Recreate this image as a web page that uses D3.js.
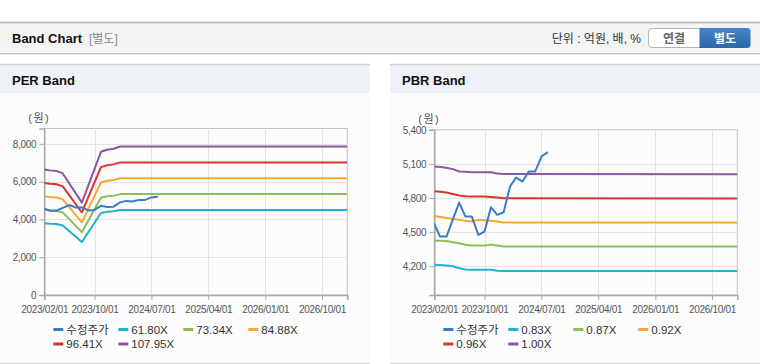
<!DOCTYPE html>
<html><head><meta charset="utf-8">
<script src="https://cdn.jsdelivr.net/npm/d3@7/dist/d3.min.js"></script>
<style>
html,body{margin:0;padding:0;background:#fff;}
svg{display:block;font-family:"Liberation Sans",Arial,"Noto Sans CJK KR",sans-serif;}
</style></head>
<body><svg id="c" width="760" height="364"></svg>
<script>
// ---------- data ----------
const xTickDates = ["2023-02-01","2023-10-01","2024-07-01","2025-04-01","2026-01-01","2026-10-01"];
const xDomain = ["2023-02-01","2027-01-31"];

const priceDates = ["2023-02-01","2023-03-01","2023-04-01","2023-05-01","2023-06-01","2023-07-01","2023-08-01","2023-09-01","2023-10-01","2023-11-01","2023-12-01","2024-01-01","2024-02-01","2024-03-01","2024-04-01","2024-05-01","2024-06-01","2024-07-01","2024-08-01"];
const priceValues = [4572,4461,4461,4610,4760,4637,4637,4476,4505,4719,4652,4675,4901,4980,4945,5033,5033,5165,5204];

const perDates = ["2023-02-01","2023-03-01","2023-04-01","2023-05-01","2023-08-01","2023-11-01","2023-12-01","2024-01-01","2024-02-01","2027-01-31"];
const perNames = ["61.80X","73.34X","84.88X","96.41X","107.95X"];
const per61 = [3801,3776,3757,3683,2800,4338,4400,4431,4499,4499];
const per73 = [4510,4481,4459,4371,3322,5149,5222,5258,5339,5339];
const per84 = [5220,5186,5161,5059,3845,5959,6043,6086,6179,6179];
const per96 = [5929,5891,5862,5746,4367,6768,6864,6913,7019,7019];
const per107 = [6639,6596,6563,6434,4890,7578,7686,7740,7859,7859];
const perYTicks = [0,2000,4000,6000,8000];

const pbrDates = ["2023-02-01","2023-03-01","2023-04-01","2023-05-01","2023-06-01","2023-07-01","2023-08-01","2023-09-01","2023-10-01","2023-11-01","2023-12-01","2024-01-01","2027-01-31"];
const pbrNames = ["0.83X","0.87X","0.92X","0.96X","1.00X"];
const pbr083 = [4214,4211,4207,4200,4182,4172,4169,4169,4169,4169,4161,4159,4159];
const pbr087 = [4426,4424,4421,4411,4402,4388,4382,4382,4382,4390,4382,4373,4373];
const pbr092 = [4643,4634,4625,4616,4608,4599,4593,4608,4605,4601,4593,4584,4584];
const pbr096 = [4860,4856,4848,4836,4822,4816,4813,4813,4813,4810,4804,4798,4795];
const pbr100 = [5077,5073,5067,5054,5033,5030,5027,5027,5027,5026,5015,5011,5008];
const pbrYTicks = [4200,4500,4800,5100,5400];

const colors = ["#3b7bc8","#21b3c6","#8fbd59","#f3a737","#d5362d","#8d55a1"];
const priceName = "수정주가";

// ---------- layout ----------
const svg = d3.select("#c");
const parse = d3.timeParse("%Y-%m-%d");
const fmtTick = d3.timeFormat("%Y/%m/%d");

// top header
svg.append("rect").attr("x",0).attr("y",22).attr("width",760).attr("height",31).attr("fill","#f4f4f4");
svg.append("line").attr("x1",0).attr("x2",760).attr("y1",22.5).attr("y2",22.5).attr("stroke","#b0b0b0").attr("stroke-width",1.5);
svg.append("line").attr("x1",0).attr("x2",760).attr("y1",53.5).attr("y2",53.5).attr("stroke","#c8c8c8");
svg.append("line").attr("x1",0).attr("x2",760).attr("y1",54.5).attr("y2",54.5).attr("stroke","#e6e6e6");
svg.append("text").attr("x",12).attr("y",43).attr("font-size",13).attr("font-weight","bold").attr("fill","#111").text("Band Chart");
svg.append("text").attr("x",89).attr("y",43).attr("font-size",12).attr("fill","#8a8a8a").text("[별도]");
svg.append("text").attr("x",641).attr("y",43).attr("text-anchor","end").attr("font-size",12).attr("fill","#333").text("단위 : 억원, 배, %");
// buttons
svg.append("path").attr("d","M703,28.5 H652 a3.5,3.5 0 0 0 -3.5,3.5 V44 a3.5,3.5 0 0 0 3.5,3.5 H703 Z")
  .attr("fill","#fff").attr("stroke","#b5b5b5");
const grad = svg.append("defs").append("linearGradient").attr("id","bg").attr("x1",0).attr("x2",0).attr("y1",0).attr("y2",1);
grad.append("stop").attr("offset","0").attr("stop-color","#4384c6");
grad.append("stop").attr("offset","1").attr("stop-color","#2c68a8");
svg.append("path").attr("d","M699.5,28 H747 a3.5,3.5 0 0 1 3.5,3.5 V44.5 a3.5,3.5 0 0 1 -3.5,3.5 H699.5 Z").attr("fill","url(#bg)");
svg.append("text").attr("x",674).attr("y",42.5).attr("text-anchor","middle").attr("font-size",12).attr("font-weight","bold").attr("fill","#666").text("연결");
svg.append("text").attr("x",725).attr("y",42.5).attr("text-anchor","middle").attr("font-size",12).attr("font-weight","bold").attr("fill","#fff").text("별도");

function panel(px, pw, title){
  svg.append("rect").attr("x",px).attr("y",64).attr("width",pw).attr("height",299).attr("fill","#fcfcfc");
  svg.append("rect").attr("x",px).attr("y",64).attr("width",pw).attr("height",29).attr("fill","#eef1f6");
  svg.append("line").attr("x1",px).attr("x2",px+pw).attr("y1",64.5).attr("y2",64.5).attr("stroke","#d0d0d0").attr("stroke-width",1.5);
  svg.append("line").attr("x1",px).attr("x2",px+pw).attr("y1",363.5).attr("y2",363.5).attr("stroke","#d6d6d6");
  svg.append("text").attr("x",px+12).attr("y",85).attr("font-size",13).attr("font-weight","bold").attr("fill","#111").text(title);
}
panel(0,370,"PER Band");
panel(390,370,"PBR Band");

function chart(opt){
  const {left, top, yDomain, yTicks, bands, bandDates, names, yFmt} = opt;
  const right = left + 303, bottom = 295;
  const x = d3.scaleTime().domain(xDomain.map(parse)).range([left, right]);
  const y = d3.scaleLinear().domain(yDomain).range([bottom, top]);
  const g = svg.append("g");
  g.append("rect").attr("x",left).attr("y",top).attr("width",right-left).attr("height",bottom-top).attr("fill","#fcfcfc").attr("stroke","#c4c4c4");
  // grid
  g.selectAll(".vg").data(xTickDates.slice(1)).join("line")
    .attr("x1",d=>Math.round(x(parse(d)))+0.5).attr("x2",d=>Math.round(x(parse(d)))+0.5)
    .attr("y1",top).attr("y2",bottom).attr("stroke","#e3e3e3");
  g.selectAll(".hg").data(yTicks.filter(t=>y(t)>top+1 && y(t)<bottom-1)).join("line")
    .attr("x1",left).attr("x2",right).attr("y1",d=>Math.round(y(d))+0.5).attr("y2",d=>Math.round(y(d))+0.5).attr("stroke","#e3e3e3");
  // axes
  const ya = d3.axisLeft(y).tickValues(yTicks).tickFormat(yFmt).tickSize(5).tickPadding(3);
  const yg = g.append("g").attr("transform",`translate(${left},0)`).call(ya);
  const xa = d3.axisBottom(x).tickValues(xTickDates.map(parse)).tickFormat(fmtTick).tickSize(5).tickPadding(6);
  const xg = g.append("g").attr("transform",`translate(0,${bottom})`).call(xa);
  [yg,xg].forEach(a=>{
    a.select(".domain").attr("stroke","#a8a8a8").attr("stroke-width",1.5);
    a.selectAll(".tick line").attr("stroke","#a8a8a8");
    a.selectAll("text").attr("fill","#555").attr("font-size",10).attr("font-family","Liberation Sans, Arial, sans-serif").attr("letter-spacing","-0.3");
  });
  g.append("text").attr("x",left-16).attr("y",top-7).attr("font-size",11).attr("letter-spacing","1.5").attr("fill","#555").text("(원)");
  const clipId = "clip"+Math.round(left);
  svg.append("clipPath").attr("id",clipId).append("rect").attr("x",left).attr("y",top).attr("width",right-left).attr("height",bottom-top);
  const line = d3.line().x(d=>x(d[0])).y(d=>y(d[1]));
  const lg = g.append("g").attr("clip-path",`url(#${clipId})`);
  bands.forEach((vals,i)=>{
    lg.append("path").datum(bandDates.map((d,j)=>[parse(d),vals[j]])).attr("d",line)
      .attr("fill","none").attr("stroke",colors[i+1]).attr("stroke-width",2).attr("stroke-linejoin","round");
  });
  lg.append("path").datum(priceDates.map((d,j)=>[parse(d),priceValues[j]])).attr("d",line)
    .attr("fill","none").attr("stroke",colors[0]).attr("stroke-width",2).attr("stroke-linejoin","round");
  // legend
  const items = [priceName].concat(names);
  items.forEach((n,i)=>{
    const col = i%4, row = Math.floor(i/4);
    const lx = left + 9 + col*65, ly = 329.5 + row*14.5;
    g.append("line").attr("x1",lx).attr("x2",lx+10).attr("y1",ly).attr("y2",ly).attr("stroke",colors[i]).attr("stroke-width",3);
    g.append("text").attr("x",lx+13).attr("y",ly+4).attr("font-size",11.5).attr("fill","#333").text(n);
  });
}

chart({left:44.3, top:128.5, yDomain:[0,8812], yTicks:perYTicks, bands:[per61,per73,per84,per96,per107], bandDates:perDates, names:perNames, yFmt:d3.format(",")});
chart({left:434.3, top:129.8, yDomain:[3947,5400], yTicks:pbrYTicks, bands:[pbr083,pbr087,pbr092,pbr096,pbr100], bandDates:pbrDates, names:pbrNames, yFmt:d3.format(",")});
</script>
</body></html>
